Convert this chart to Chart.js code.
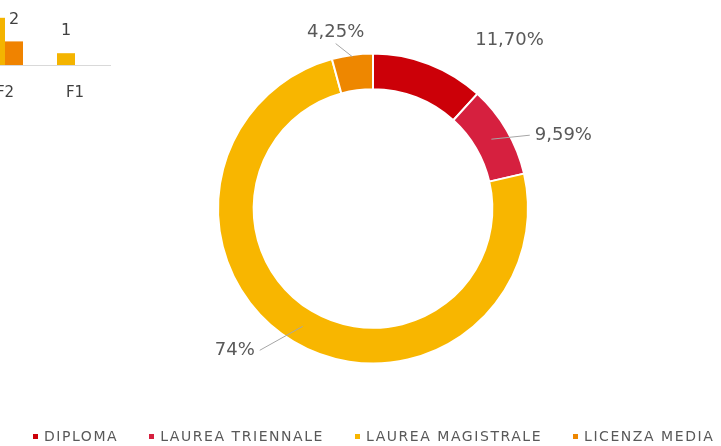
<!DOCTYPE html>
<html>
<head>
<meta charset="utf-8">
<script src="https://cdn.jsdelivr.net/npm/chart.js@4.4.1/dist/chart.umd.min.js"></script>
<style>
    html, body { margin: 0; padding: 0; background: #fff; }
    #wrap { position: relative; width: 721px; height: 446px; overflow: hidden; }
    #torta { position: absolute; left: 0; top: 0; }
    #barre { position: absolute; left: -40px; top: 0; }
    #legenda {
        position: absolute; left: 33px; top: 428px;
        display: flex; gap: 31px;
        font: 14px 'DejaVu Sans', sans-serif; letter-spacing: 1.55px; color: #595959;
        white-space: nowrap;
    }
    .voce { display: flex; align-items: center; }
    .voce i { display: inline-block; width: 5px; height: 5px; margin-right: 6px; }
</style>
</head>
<body>
<div id="wrap">
    <canvas id="barre" width="160" height="130"></canvas>
    <canvas id="torta" width="721" height="446"></canvas>
    <div id="legenda"></div>
</div>
<script>
// dati della torta
var titoli = ['DIPLOMA', 'LAUREA TRIENNALE', 'LAUREA MAGISTRALE', 'LICENZA MEDIA'];
var percentuali = [11.70, 9.59, 74, 4.25];
var colori = ['#CC0008', '#D6203F', '#F8B600', '#EE8700'];

// frammento del grafico a barre (tagliato in alto a sinistra)
var barCategorie = ['F2', 'F1'];
var barGialle = [4, 1];
var barArancioni = [2, null];

// spostamento delle etichette rispetto al centro dello spicchio
var spostamenti = [
    { dx: 87,  dy: -40 },
    { dx: 72,  dy: -4,  linea: 'sinistra' },
    { dx: -68, dy: 24,  linea: 'destra' },
    { dx: -19, dy: -40, linea: 'sotto', daBordo: true }
];

function formatta(v) {
    var s = Number.isInteger(v) ? String(v) : v.toFixed(2);
    return s.replace('.', ',') + '%';
}

var etichetteTorta = {
    id: 'etichetteTorta',
    afterDatasetsDraw: function(chart) {
        var ctx = chart.ctx;
        var archi = chart.getDatasetMeta(0).data;
        ctx.save();
        ctx.font = '18px "DejaVu Sans"';
        ctx.textAlign = 'center';
        ctx.textBaseline = 'middle';
        for (var i = 0; i < archi.length; i++) {
            var p = archi[i].getProps(['x', 'y', 'startAngle', 'endAngle', 'innerRadius', 'outerRadius'], true);
            var mezzo = (p.startAngle + p.endAngle) / 2;
            var r = (p.innerRadius + p.outerRadius) / 2;
            var ax = p.x + Math.cos(mezzo) * r;
            var ay = p.y + Math.sin(mezzo) * r;
            var sp = spostamenti[i];
            var lx = ax + sp.dx, ly = ay + sp.dy;
            var testo = formatta(percentuali[i]);
            if (sp.linea) {
                var w = ctx.measureText(testo).width;
                var ex, ey;
                if (sp.linea == 'sinistra') { ex = lx - w / 2 - 5; ey = ly; }
                else if (sp.linea == 'destra') { ex = lx + w / 2 + 5; ey = ly; }
                else { ex = lx; ey = ly + 11; }
                var sx = ax, sy = ay;
                if (sp.daBordo) {
                    sx = p.x + Math.cos(mezzo) * (p.outerRadius - 2);
                    sy = p.y + Math.sin(mezzo) * (p.outerRadius - 2);
                }
                ctx.strokeStyle = '#a6a6a6';
                ctx.lineWidth = 1;
                ctx.beginPath();
                ctx.moveTo(sx, sy);
                ctx.lineTo(ex, ey);
                ctx.stroke();
            }
            ctx.fillStyle = '#595959';
            ctx.fillText(testo, lx, ly);
        }
        ctx.restore();
    }
};

var etichetteBarre = {
    id: 'etichetteBarre',
    afterDatasetsDraw: function(chart) {
        var ctx = chart.ctx;
        ctx.save();
        ctx.font = '16px "DejaVu Sans"';
        ctx.fillStyle = '#404040';
        ctx.textAlign = 'center';
        ctx.textBaseline = 'middle';
        chart.data.datasets.forEach(function(ds, d) {
            var meta = chart.getDatasetMeta(d);
            meta.data.forEach(function(bar, j) {
                if (ds.data[j] == null) return;
                ctx.fillText(String(ds.data[j]), bar.x, bar.y - 22);
            });
        });
        ctx.restore();
    }
};

new Chart(document.getElementById('barre'), {
    type: 'bar',
    data: {
        labels: barCategorie,
        datasets: [
            { data: barGialle, backgroundColor: '#F4B400' },
            { data: barArancioni, backgroundColor: '#F08300' }
        ]
    },
    options: {
        responsive: false,
        animation: false,
        barPercentage: 1,
        categoryPercentage: 0.514,
        layout: { padding: { left: 10, right: 10, top: 6, bottom: 9 } },
        plugins: { legend: { display: false }, tooltip: { enabled: false } },
        scales: {
            x: {
                grid: { display: false, drawTicks: false },
                border: { display: true, color: '#d9d9d9' },
                ticks: { color: '#404040', font: { family: 'DejaVu Sans', size: 15 }, padding: 19 }
            },
            y: { display: false, min: 0, max: 5 }
        }
    },
    plugins: [etichetteBarre]
});

new Chart(document.getElementById('torta'), {
    type: 'doughnut',
    data: {
        labels: titoli,
        datasets: [{
            data: percentuali,
            backgroundColor: colori,
            borderColor: '#ffffff',
            borderWidth: 2
        }]
    },
    options: {
        responsive: false,
        animation: false,
        cutout: '77%',
        layout: { padding: { left: 217, right: 192, top: 52, bottom: 81 } },
        plugins: { legend: { display: false }, tooltip: { enabled: false } }
    },
    plugins: [etichetteTorta]
});

// legenda costruita dagli stessi array
var legenda = document.getElementById('legenda');
for (var i = 0; i < titoli.length; i++) {
    var voce = document.createElement('span');
    voce.className = 'voce';
    voce.innerHTML = '<i style="background:' + colori[i] + '"></i>' + titoli[i];
    legenda.appendChild(voce);
}
</script>
</body>
</html>
